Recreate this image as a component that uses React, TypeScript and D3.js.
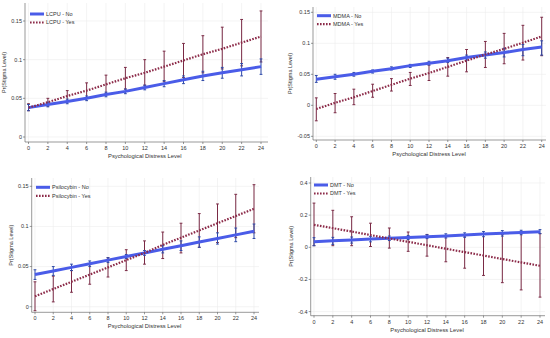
import * as d3 from "d3";

// distress levels on the x axis
const levels = [0, 2, 4, 6, 8, 10, 12, 14, 16, 18, 20, 22, 24];

// LCPU
const lcpuNo = [0.038, 0.042, 0.046, 0.050, 0.055, 0.059, 0.064, 0.069, 0.074, 0.079, 0.083, 0.087, 0.091];
const lcpuNoLo = [0.034, 0.039, 0.043, 0.047, 0.052, 0.056, 0.061, 0.065, 0.069, 0.073, 0.076, 0.079, 0.081];
const lcpuNoHi = [0.042, 0.045, 0.049, 0.053, 0.058, 0.062, 0.067, 0.073, 0.079, 0.085, 0.090, 0.095, 0.101];
const lcpuYes = [0.038, 0.045, 0.053, 0.060, 0.068, 0.076, 0.083, 0.091, 0.099, 0.107, 0.114, 0.122, 0.130];
const lcpuYesLo = [0.034, 0.040, 0.046, 0.050, 0.056, 0.062, 0.067, 0.072, 0.077, 0.083, 0.088, 0.092, 0.097];
const lcpuYesHi = [0.043, 0.050, 0.060, 0.070, 0.080, 0.090, 0.100, 0.111, 0.121, 0.131, 0.142, 0.152, 0.163];

// MDMA
const mdmaNo = [0.042, 0.046, 0.050, 0.055, 0.059, 0.064, 0.068, 0.072, 0.077, 0.081, 0.085, 0.090, 0.094];
const mdmaNoLo = [0.037, 0.042, 0.047, 0.052, 0.057, 0.061, 0.065, 0.069, 0.073, 0.076, 0.078, 0.080, 0.081];
const mdmaNoHi = [0.048, 0.050, 0.053, 0.057, 0.062, 0.066, 0.071, 0.076, 0.081, 0.086, 0.092, 0.098, 0.104];
const mdmaYes = [-0.006, 0.004, 0.013, 0.023, 0.033, 0.043, 0.052, 0.062, 0.072, 0.082, 0.091, 0.101, 0.111];
const mdmaYesLo = [-0.025, -0.012, 0.001, 0.013, 0.023, 0.032, 0.040, 0.047, 0.054, 0.061, 0.067, 0.073, 0.080];
const mdmaYesHi = [0.012, 0.019, 0.026, 0.034, 0.043, 0.053, 0.065, 0.077, 0.090, 0.103, 0.116, 0.129, 0.142];

// Psilocybin
const psiNo = [0.040, 0.0445, 0.049, 0.0535, 0.058, 0.0625, 0.067, 0.0715, 0.076, 0.0805, 0.085, 0.0895, 0.094];
const psiNoLo = [0.034, 0.039, 0.045, 0.050, 0.055, 0.060, 0.064, 0.067, 0.070, 0.074, 0.078, 0.081, 0.085];
const psiNoHi = [0.046, 0.050, 0.053, 0.057, 0.061, 0.065, 0.070, 0.076, 0.082, 0.087, 0.092, 0.098, 0.103];
const psiYes = [0.013, 0.022, 0.031, 0.040, 0.049, 0.058, 0.067, 0.077, 0.086, 0.095, 0.104, 0.113, 0.122];
const psiYesLo = [-0.005, 0.006, 0.018, 0.028, 0.037, 0.045, 0.053, 0.060, 0.067, 0.074, 0.080, 0.086, 0.092];
const psiYesHi = [0.031, 0.038, 0.045, 0.053, 0.061, 0.071, 0.082, 0.093, 0.104, 0.116, 0.128, 0.140, 0.152];

// DMT
const dmtNo = [0.035, 0.040, 0.045, 0.051, 0.056, 0.061, 0.066, 0.071, 0.076, 0.082, 0.087, 0.092, 0.097];
const dmtNoLo = [0.010, 0.018, 0.026, 0.034, 0.042, 0.049, 0.054, 0.058, 0.062, 0.066, 0.070, 0.078, 0.085];
const dmtNoHi = [0.060, 0.062, 0.064, 0.068, 0.070, 0.073, 0.078, 0.084, 0.090, 0.098, 0.104, 0.106, 0.110];
const dmtYes = [0.140, 0.119, 0.098, 0.076, 0.055, 0.034, 0.013, -0.009, -0.030, -0.051, -0.073, -0.094, -0.115];
const dmtYesLo = [0.010, 0.010, 0.010, 0.005, -0.005, -0.025, -0.055, -0.090, -0.130, -0.175, -0.220, -0.265, -0.310];
const dmtYesHi = [0.275, 0.230, 0.190, 0.150, 0.120, 0.095, 0.080, 0.070, 0.070, 0.080, 0.080, 0.090, 0.085];

const stdTicks = [0, 0.05, 0.1, 0.15];
const mdmaTicks = [-0.05, 0, 0.05, 0.1, 0.15];
const dmtTicks = [-0.4, -0.2, 0, 0.2, 0.4];

const BLUE = "#4a5ce8";
const BLUE_BAR = "#2f4aa8";
const RED = "#8c2b49";
const RED_BAR = "#7a2a45";
const FONT = "Liberation Sans, Arial, sans-serif";

type Layout = {
  x0: number; x1: number;
  yv: [number, number]; yp: [number, number];
  left: number; right: number; top: number; bottom: number;
  legX: number; legY: number;
  titleX: number;
};

type PanelProps = {
  name: string;
  ticks: number[];
  no: number[]; noLo: number[]; noHi: number[];
  yes: number[]; yesLo: number[]; yesHi: number[];
  lay: Layout;
};

const fmt = (v: number) => (Math.abs(v) < 1e-9 ? "0" : String(+v.toFixed(2)));

function Panel({ name, ticks, no, noLo, noHi, yes, yesLo, yesHi, lay }: PanelProps) {
  const x = d3.scaleLinear().domain([0, 24]).range([lay.x0, lay.x1]);
  const y = d3.scaleLinear().domain(lay.yv).range(lay.yp);
  const line = d3
    .line<number>()
    .x((_, i) => x(levels[i]))
    .y((d) => y(d));

  const bars = (lo: number[], hi: number[], color: string) =>
    levels.map((l, i) => (
      <g key={l} stroke={color} strokeWidth={1}>
        <line x1={x(l)} x2={x(l)} y1={y(lo[i])} y2={y(hi[i])} />
        <line x1={x(l) - 1.4} x2={x(l) + 1.4} y1={y(lo[i])} y2={y(lo[i])} />
        <line x1={x(l) - 1.4} x2={x(l) + 1.4} y1={y(hi[i])} y2={y(hi[i])} />
      </g>
    ));

  const midY = (lay.top + lay.bottom) / 2;

  return (
    <g fontFamily={FONT} fill="#333">
      {/* grid */}
      {levels.map((l) => (
        <line key={"gx" + l} x1={x(l)} x2={x(l)} y1={lay.top} y2={lay.bottom} stroke="#ececec" strokeWidth={0.6} />
      ))}
      {ticks.map((t) => (
        <line key={"gy" + t} x1={lay.left} x2={lay.right} y1={y(t)} y2={y(t)} stroke="#ececec" strokeWidth={0.6} />
      ))}
      {/* axes */}
      <line x1={lay.left} x2={lay.left} y1={lay.top} y2={lay.bottom} stroke="#555" strokeWidth={0.6} />
      <line x1={lay.left} x2={lay.right} y1={lay.bottom} y2={lay.bottom} stroke="#555" strokeWidth={0.6} />
      {ticks.map((t) => (
        <g key={"ty" + t}>
          <line x1={lay.left - 2} x2={lay.left} y1={y(t)} y2={y(t)} stroke="#555" strokeWidth={0.6} />
          <text x={lay.left - 3} y={y(t)} dy="0.35em" textAnchor="end" fontSize={5.5}>
            {fmt(t)}
          </text>
        </g>
      ))}
      {levels.map((l) => (
        <g key={"tx" + l}>
          <line x1={x(l)} x2={x(l)} y1={lay.bottom} y2={lay.bottom + 2} stroke="#555" strokeWidth={0.6} />
          <text x={x(l)} y={lay.bottom + 8} textAnchor="middle" fontSize={5.5}>
            {l}
          </text>
        </g>
      ))}
      <text x={(lay.x0 + lay.x1) / 2} y={lay.bottom + 16} textAnchor="middle" fontSize={5.8}>
        Psychological Distress Level
      </text>
      <text transform={`translate(${lay.titleX},${midY}) rotate(-90)`} textAnchor="middle" fontSize={5.5}>
        Pr(Stigma Level)
      </text>

      {/* marks */}
      {bars(yesLo, yesHi, RED_BAR)}
      {bars(noLo, noHi, BLUE_BAR)}
      <path d={line(no) || ""} fill="none" stroke={BLUE} strokeWidth={3} />
      <path d={line(yes) || ""} fill="none" stroke={RED} strokeWidth={2.2} strokeDasharray="1.6,1.4" />

      {/* legend */}
      <line x1={lay.legX} x2={lay.legX + 14} y1={lay.legY} y2={lay.legY} stroke={BLUE} strokeWidth={3} />
      <text x={lay.legX + 16} y={lay.legY} dy="0.35em" fontSize={5.5}>
        {name} - No
      </text>
      <line x1={lay.legX} x2={lay.legX + 14} y1={lay.legY + 8.5} y2={lay.legY + 8.5} stroke={RED} strokeWidth={2.2} strokeDasharray="1.6,1.4" />
      <text x={lay.legX + 16} y={lay.legY + 8.5} dy="0.35em" fontSize={5.5}>
        {name} - Yes
      </text>
    </g>
  );
}

const layLcpu: Layout = {
  x0: 28.5, x1: 261, yv: [0, 0.15], yp: [137, 21],
  left: 25, right: 268, top: 3, bottom: 142, legX: 30, legY: 14, titleX: 6,
};
const layMdma: Layout = {
  x0: 316.3, x1: 541.7, yv: [0, 0.15], yp: [105.3, 12.3],
  left: 313, right: 546, top: 7, bottom: 140, legX: 317, legY: 15.7, titleX: 292,
};
const layPsi: Layout = {
  x0: 35, x1: 254, yv: [0, 0.15], yp: [306.7, 186.3],
  left: 31.7, right: 259, top: 178, bottom: 312.3, legX: 36, legY: 187.3, titleX: 13,
};
const layDmt: Layout = {
  x0: 314, x1: 540, yv: [0, 0.4], yp: [247.3, 183],
  left: 310.7, right: 545, top: 177, bottom: 315.7, legX: 314, legY: 185, titleX: 293,
};

export default function App() {
  return (
    <svg width={550} height={338} style={{ position: "absolute", left: 0, top: 0, background: "#fff" }}>
      <rect width={550} height={338} fill="#fff" />
      <Panel name="LCPU" ticks={stdTicks} no={lcpuNo} noLo={lcpuNoLo} noHi={lcpuNoHi} yes={lcpuYes} yesLo={lcpuYesLo} yesHi={lcpuYesHi} lay={layLcpu} />
      <Panel name="MDMA" ticks={mdmaTicks} no={mdmaNo} noLo={mdmaNoLo} noHi={mdmaNoHi} yes={mdmaYes} yesLo={mdmaYesLo} yesHi={mdmaYesHi} lay={layMdma} />
      <Panel name="Psilocybin" ticks={stdTicks} no={psiNo} noLo={psiNoLo} noHi={psiNoHi} yes={psiYes} yesLo={psiYesLo} yesHi={psiYesHi} lay={layPsi} />
      <Panel name="DMT" ticks={dmtTicks} no={dmtNo} noLo={dmtNoLo} noHi={dmtNoHi} yes={dmtYes} yesLo={dmtYesLo} yesHi={dmtYesHi} lay={layDmt} />
    </svg>
  );
}
